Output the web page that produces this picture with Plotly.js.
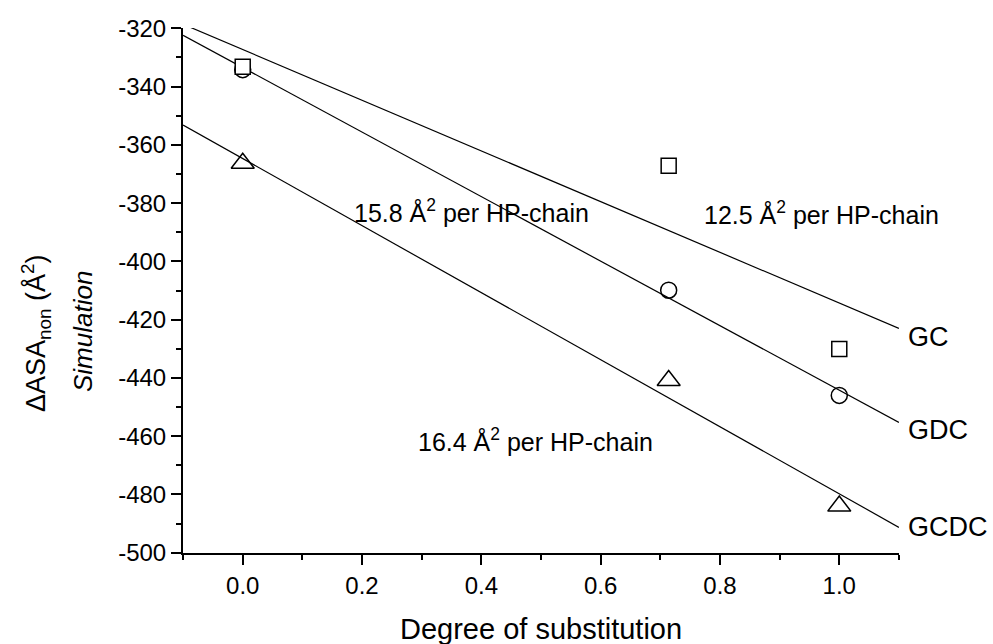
<!DOCTYPE html>
<html>
<head>
<meta charset="utf-8">
<script src="https://cdn.plot.ly/plotly-3.0.1.min.js"></script>
<style>html,body{margin:0;padding:0;background:#fff;}#chart{width:993px;height:644px;}</style>
</head>
<body>
<div id="chart"></div>
<script>
// Degree of substitution
var xSub = [0, 0.714, 1.0];
// Simulated ΔASA_non values (Å²)
var gcVals = [-333.2, -367.2, -430.1];
var gdcVals = [-334.2, -409.9, -446.0];
var gcdcVals = [-366.3, -440.9, -484.0];
// Linear-fit lines (end points)
var fitX = [-0.1, 1.1];
var gcFit = [-318.6, -423.0];
var gdcFit = [-322.4, -455.3];
var gcdcFit = [-353.2, -491.3];
// Tick labels
var yTickVals = [-500, -480, -460, -440, -420, -400, -380, -360, -340, -320];
var yTickText = ["-500", "-480", "-460", "-440", "-420", "-400", "-380", "-360", "-340", "-320"];
var xTickVals = [0, 0.2, 0.4, 0.6, 0.8, 1.0];
var xTickText = ["0.0", "0.2", "0.4", "0.6", "0.8", "1.0"];
// Labels
var seriesNames = ["GC", "GDC", "GCDC"];
var slopeLabels = ["12.5 Å<sup>2</sup> per HP-chain", "15.8 Å<sup>2</sup> per HP-chain", "16.4 Å<sup>2</sup> per HP-chain"];

var FONT = "Liberation Sans, Arial, sans-serif";
var lineStyle = {color: "#000", width: 1.2};

var traces = [
  {x: fitX, y: gcFit, mode: "lines", line: lineStyle, hoverinfo: "skip"},
  {x: fitX, y: gdcFit, mode: "lines", line: lineStyle, hoverinfo: "skip"},
  {x: fitX, y: gcdcFit, mode: "lines", line: lineStyle, hoverinfo: "skip"},
  {x: xSub, y: gcdcVals, mode: "markers", name: seriesNames[2],
   marker: {symbol: "triangle-up-open", size: 20, color: "#000", line: {color: "#000", width: 1.5}}},
  {x: xSub, y: gdcVals, mode: "markers", name: seriesNames[1],
   marker: {symbol: "circle-open", size: 16, color: "#000", line: {color: "#000", width: 1.5}}},
  {x: xSub, y: gcVals, mode: "markers", name: seriesNames[0],
   marker: {symbol: "square", size: 15, color: "#fff", line: {color: "#000", width: 1.5}}}
];

function pxX(px) { return (px - 183) / 716; }
function pxY(px) { return (553 - px) / 525; }

var annotations = [
  {xref: "x", yref: "y", x: 0.770, y: -383.4, xanchor: "left", yanchor: "middle", text: slopeLabels[0], showarrow: false, font: {family: FONT, size: 25, color: "#000"}},
  {xref: "x", yref: "y", x: 0.183, y: -382.6, xanchor: "left", yanchor: "middle", text: slopeLabels[1], showarrow: false, font: {family: FONT, size: 25, color: "#000"}},
  {xref: "x", yref: "y", x: 0.2905, y: -461.2, xanchor: "left", yanchor: "middle", text: slopeLabels[2], showarrow: false, font: {family: FONT, size: 25, color: "#000"}},
  {xref: "paper", yref: "paper", x: pxX(906), y: pxY(337), xanchor: "left", yanchor: "middle", text: seriesNames[0], showarrow: false, font: {family: FONT, size: 27, color: "#000"}},
  {xref: "paper", yref: "paper", x: pxX(906), y: pxY(430), xanchor: "left", yanchor: "middle", text: seriesNames[1], showarrow: false, font: {family: FONT, size: 27, color: "#000"}},
  {xref: "paper", yref: "paper", x: pxX(906), y: pxY(527), xanchor: "left", yanchor: "middle", text: seriesNames[2], showarrow: false, font: {family: FONT, size: 27, color: "#000"}},
  {xref: "paper", yref: "paper", x: pxX(36), y: pxY(333), xanchor: "center", yanchor: "middle", textangle: -90, text: "ΔASA<sub>non</sub> (Å<sup>2</sup>)", showarrow: false, font: {family: FONT, size: 27, color: "#000"}},
  {xref: "paper", yref: "paper", x: pxX(83), y: pxY(332), xanchor: "center", yanchor: "middle", textangle: -90, text: "<i>Simulation</i>", showarrow: false, font: {family: FONT, size: 26, color: "#000"}},
  {xref: "paper", yref: "paper", x: pxX(541), y: pxY(629), xanchor: "center", yanchor: "middle", text: "Degree of substitution", showarrow: false, font: {family: FONT, size: 29, color: "#000"}}
];

var layout = {
  width: 993, height: 644,
  margin: {l: 183, r: 94, t: 28, b: 91},
  paper_bgcolor: "#fff", plot_bgcolor: "#fff",
  showlegend: false,
  font: {family: FONT, size: 24, color: "#000"},
  xaxis: {
    range: [-0.1001, 1.1001], tickmode: "array", tickvals: xTickVals, ticktext: xTickText,
    ticks: "outside", ticklen: 10, tickwidth: 2, tickcolor: "#000",
    showline: true, linewidth: 2, linecolor: "#000", mirror: false,
    showgrid: false, zeroline: false,
    minor: {tick0: 0, dtick: 0.1, ticks: "outside", ticklen: 5, tickwidth: 2, tickcolor: "#000", showgrid: false},
    tickfont: {family: FONT, size: 24, color: "#000"}
  },
  yaxis: {
    range: [-500.1, -319.9], tickmode: "array", tickvals: yTickVals, ticktext: yTickText,
    ticks: "outside", ticklen: 10, tickwidth: 2, tickcolor: "#000",
    showline: true, linewidth: 2, linecolor: "#000", mirror: false,
    showgrid: false, zeroline: false,
    minor: {tick0: 0, dtick: 10, ticks: "outside", ticklen: 5, tickwidth: 2, tickcolor: "#000", showgrid: false},
    tickfont: {family: FONT, size: 24, color: "#000"}
  },
  annotations: annotations
};

Plotly.newPlot("chart", traces, layout, {displayModeBar: false, staticPlot: true});
</script>
</body>
</html>
